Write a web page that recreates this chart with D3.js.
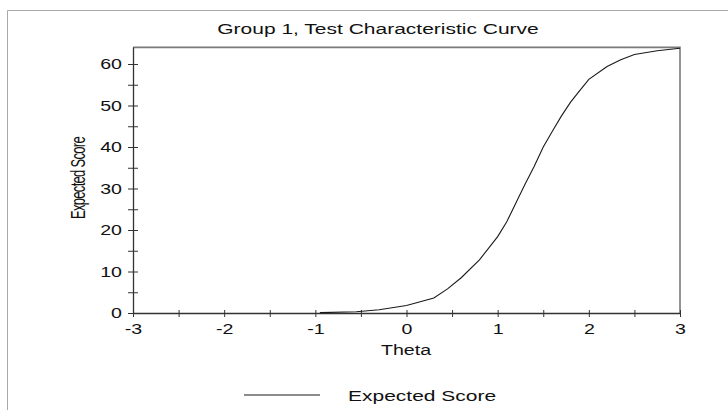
<!DOCTYPE html>
<html>
<head>
<meta charset="utf-8">
<script src="https://cdn.jsdelivr.net/npm/d3@7/dist/d3.min.js"></script>
<style>
  html, body { margin: 0; padding: 0; background: #fff; }
  svg { display: block; font-family: "Liberation Sans", Arial, sans-serif; }
</style>
</head>
<body>
<script>
// ---- data ----
const theta = [-0.95, -0.55, -0.3, 0, 0.3, 0.45, 0.6, 0.8, 1.0, 1.1, 1.2, 1.3, 1.4, 1.5, 1.6, 1.7, 1.8, 1.9, 2.0, 2.2, 2.35, 2.5, 2.75, 3.0];
const expectedScore = [0.1, 0.3, 0.8, 1.8, 3.6, 5.8, 8.5, 12.8, 18.4, 22.0, 26.5, 31.0, 35.3, 40.0, 43.8, 47.5, 50.8, 53.6, 56.3, 59.4, 61.0, 62.3, 63.2, 63.8];
const xTicks = [-3, -2, -1, 0, 1, 2, 3];
const xMinorTicks = [-3, -2.5, -2, -1.5, -1, -0.5, 0, 0.5, 1, 1.5, 2, 2.5, 3];
const yTicks = [0, 10, 20, 30, 40, 50, 60];
const yMinorTicks = [0, 5, 10, 15, 20, 25, 30, 35, 40, 45, 50, 55, 60];
const titleText = "Group 1, Test Characteristic Curve";
const xTitle = "Theta";
const yTitle = "Expected Score";
const legendLabel = "Expected Score";

const W = 728, H = 410;
const SX = 1.4; // horizontal stretch of the reference rendering

const svg = d3.select("body").append("svg").attr("width", W).attr("height", H);

// outer frame
svg.append("path").attr("d", `M7.5,${H} V10.5 H${W}`)
  .attr("fill", "none").attr("stroke", "#a8a8a8").attr("stroke-width", 1);

const x = d3.scaleLinear().domain([-3, 3]).range([133, 680]);
const y = d3.scaleLinear().domain([0, 64]).range([313, 47.4]);

// plot frame top/right
svg.append("path")
  .attr("d", `M${x(-3)},${y(64)} H${x(3)} V${y(0)}`)
  .attr("fill", "none").attr("stroke", "#7a7a7a").attr("stroke-width", 1.6);

// x axis minor/major ticks (crossing)
const gx = svg.append("g").attr("transform", `translate(0,${y(0)})`);
gx.call(d3.axisBottom(x).tickValues(xMinorTicks).tickFormat("").tickSizeOuter(0));
gx.select(".domain").attr("stroke", "#333").attr("stroke-width", 1.3);
gx.selectAll(".tick line").attr("y1", -3).attr("y2", 4).attr("stroke", "#333");

const gxl = svg.append("g").attr("transform", `translate(0,${y(0)})`);
gxl.call(d3.axisBottom(x).tickValues(xTicks).tickFormat(d3.format("d")).tickSize(0));
gxl.select(".domain").remove();
gxl.selectAll(".tick text")
  .attr("y", 0).attr("dy", 0)
  .attr("transform", `translate(0,21) scale(${SX},1)`)
  .attr("font-size", 14).attr("fill", "#111")
  .attr("font-family", '"Liberation Sans", Arial, sans-serif')
  .text(d => d < 0 ? "-" + Math.abs(d) : d);

// y axis
const gy = svg.append("g").attr("transform", `translate(${x(-3)},0)`);
gy.call(d3.axisLeft(y).tickValues(yMinorTicks).tickFormat("").tickSizeOuter(0));
gy.select(".domain").attr("stroke", "#333").attr("stroke-width", 1.3)
  .attr("d", `M0.5,${y(64)} V${y(0)}`);
gy.selectAll(".tick line").attr("x1", -5).attr("x2", 5).attr("stroke", "#333");

const gyl = svg.append("g").attr("transform", `translate(${x(-3)},0)`);
gyl.call(d3.axisLeft(y).tickValues(yTicks).tickSize(0));
gyl.select(".domain").remove();
gyl.selectAll(".tick text")
  .attr("x", 0).attr("dy", "0.35em")
  .attr("transform", `translate(-11,0) scale(${SX},1)`)
  .attr("text-anchor", "end")
  .attr("font-size", 14).attr("fill", "#111")
  .attr("font-family", '"Liberation Sans", Arial, sans-serif');

// curve
const line = d3.line().x((d, i) => x(theta[i])).y(d => y(d));
svg.append("path").datum(expectedScore)
  .attr("d", line)
  .attr("fill", "none").attr("stroke", "#1a1a1a").attr("stroke-width", 1.1);

// title
svg.append("text")
  .attr("transform", `translate(378,34) scale(${SX},1)`)
  .attr("text-anchor", "middle").attr("font-size", 15).attr("fill", "#111")
  .text(titleText);

// x title
svg.append("text")
  .attr("transform", `translate(406,355) scale(${SX},1)`)
  .attr("text-anchor", "middle").attr("font-size", 14).attr("fill", "#111")
  .text(xTitle);

// y title
svg.append("text")
  .attr("transform", `translate(85,178) scale(1.5,1) rotate(-90)`)
  .attr("text-anchor", "middle").attr("font-size", 13).attr("fill", "#111")
  .attr("letter-spacing", -0.7)
  .text(yTitle);

// legend
svg.append("line").attr("x1", 244).attr("x2", 320).attr("y1", 395).attr("y2", 395)
  .attr("stroke", "#1a1a1a").attr("stroke-width", 1);
svg.append("text")
  .attr("transform", `translate(348,401) scale(${SX},1)`)
  .attr("font-size", 15).attr("fill", "#111")
  .text(legendLabel);
</script>
</body>
</html>
